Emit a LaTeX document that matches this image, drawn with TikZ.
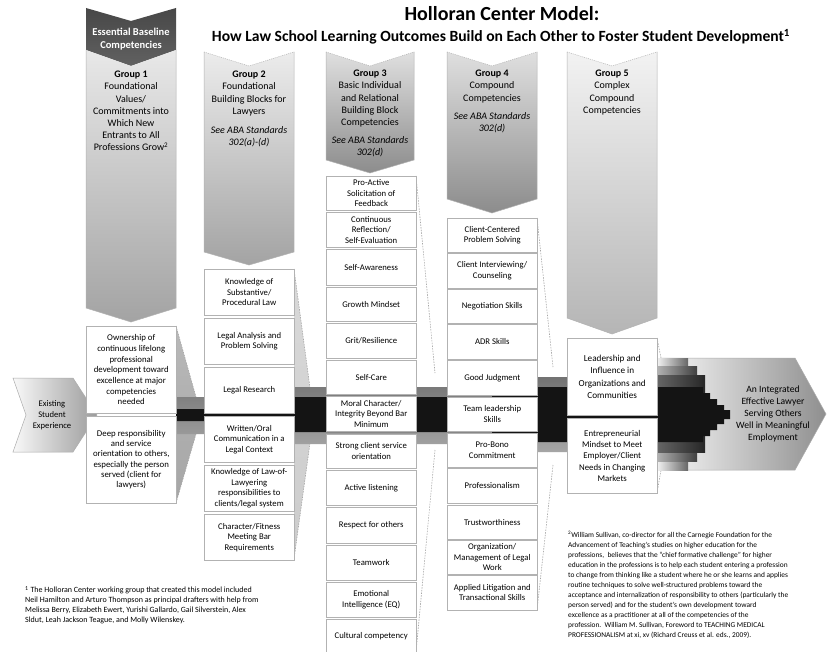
\documentclass[tikz,border=0pt]{standalone}
\usepackage{fontspec}
\setmainfont{Carlito}
\begin{document}
\begin{tikzpicture}[x=1pt,y=-1pt,
  cbox/.style={draw=gray!60, fill=white, line width=0.5pt, inner sep=0pt, align=center,
    anchor=north west, minimum width=90pt, font=\fontsize{8.7}{10.5}\selectfont,
    path picture={\draw[black!60,line width=1.1pt] (path picture bounding box.north west) -- (path picture bounding box.north east);}},
  gtext/.style={align=center, anchor=north, font=\fontsize{10}{12.2}\selectfont, inner sep=0pt},
  colside/.style={draw=gray!60, line width=0.5pt},
  coltop/.style={draw=gray!60, line width=0.5pt, dash pattern=on 1pt off 1pt},
  wedgeline/.style={draw=gray!70, line width=0.6pt, dash pattern=on 1.5pt off 1.2pt},
]
\useasboundingbox (0,0) rectangle (840,652);
\fill[white] (0,0) rectangle (840,652);
\begin{scope}
\clip (0,0) rectangle (840,652);

% ---------- titles
\node[font=\bfseries\fontsize{20}{22}\selectfont, inner sep=0pt] (title) at (502,14) {Holloran Center Model:};
\node[font=\bfseries\fontsize{15.6}{17}\selectfont, inner sep=0pt] (subtitle) at (501,37) {How Law School Learning Outcomes Build on Each Other to Foster Student Development\textsuperscript{1}};

% ---------- column chevrons
% group 1
\shade[top color=black!72, bottom color=black!62] (86,8) -- (131,21) -- (176,8) -- (176,50) -- (131,66) -- (86,50) -- cycle;
\node[font=\bfseries\fontsize{10.5}{12.4}\selectfont, text=white, align=center, inner sep=0pt] (ebc) at (131,39) {Essential Baseline\\Competencies};
\shade[top color=gray!18, bottom color=gray!72] (86,50) -- (131,66) -- (176,50) -- (176,308) -- (131,322) -- (86,308) -- cycle;
\draw[colside] (86,50) -- (86,308) -- (131,322) -- (176,308) -- (176,50);
% group 2
\shade[top color=gray!15, bottom color=gray!72] (204,52) -- (249,66) -- (294,52) -- (294,252) -- (249,265) -- (204,252) -- cycle;
\draw[colside] (204,52) -- (204,252) -- (249,265) -- (294,252) -- (294,52);
\draw[coltop] (204,52) -- (249,66) -- (294,52);
% group 3
\shade[top color=gray!25, bottom color=black!45] (326,52) -- (370,66) -- (414,52) -- (414,160) -- (370,173) -- (326,160) -- cycle;
\draw[colside] (326,52) -- (326,160) -- (370,173) -- (414,160) -- (414,52);
\draw[coltop] (326,52) -- (370,66) -- (414,52);
% group 4
\shade[top color=gray!25, bottom color=black!45] (447,52) -- (492,66) -- (537,52) -- (537,199) -- (492,213) -- (447,199) -- cycle;
\draw[colside] (447,52) -- (447,199) -- (492,213) -- (537,199) -- (537,52);
\draw[coltop] (447,52) -- (492,66) -- (537,52);
% group 5
\shade[top color=gray!10, bottom color=gray!58] (567,52) -- (612,66) -- (657,52) -- (657,318) -- (612,334) -- (567,318) -- cycle;
\draw[colside] (567,52) -- (567,318) -- (612,334) -- (657,318) -- (657,52);
\draw[coltop] (567,52) -- (612,66) -- (657,52);

% ---------- group headings
\node[gtext] (g1t) at (131,71) {\textbf{Group 1}\\Foundational\\Values/\\Commitments into\\Which New\\Entrants to All\\Professions Grow\textsuperscript{2}};
\node[gtext] (g2t) at (249,71) {\textbf{Group 2}\\Foundational\\Building Blocks for\\Lawyers\\[6.5pt]\textit{See ABA Standards}\\\textit{302(a)-(d)}};
\node[gtext] (g3t) at (370,70) {\textbf{Group 3}\\Basic Individual\\and Relational\\Building Block\\Competencies\\[6pt]\textit{See ABA Standards}\\\textit{302(d)}};
\node[gtext] (g4t) at (492,70) {\textbf{Group 4}\\Compound\\Competencies\\[6pt]\textit{See ABA Standards}\\\textit{302(d)}};
\node[gtext] (g5t) at (612,70) {\textbf{Group 5}\\Complex\\Compound\\Competencies};

% ---------- side wedges
\shade[top color=gray!55, middle color=gray!100, bottom color=gray!70] (176,326) -- (196,397) -- (196,434) -- (176,503) -- cycle;
\draw[wedgeline] (176,326) -- (196,397) (196,434) -- (176,503);
\shade[top color=gray!30, middle color=gray!90, bottom color=gray!40] (294,269) -- (310,388) -- (310,443) -- (294,559) -- cycle;
\draw[wedgeline] (294,269) -- (310,388) (310,443) -- (294,559);
\shade[top color=white, middle color=gray!30, bottom color=white] (416,176) -- (435,373) -- (435,450) -- (416,652) -- cycle;
\draw[wedgeline] (416,176) -- (435,373) (435,450) -- (416,652);
\shade[top color=white, middle color=gray!30, bottom color=white] (537,218) -- (553,367) -- (553,465) -- (537,610) -- cycle;
\draw[wedgeline] (537,218) -- (553,367) (553,465) -- (537,610);
\draw[wedgeline] (657,338) -- (661,358) (657,493) -- (661,470);

% ---------- left arrow
\shade[left color=gray!5, right color=gray!78] (13,378) -- (73,378) -- (97,415) -- (73,452) -- (13,452) -- (26,415) -- cycle;
\draw[gray!65, line width=0.5pt] (13,378) -- (73,378) -- (97,415) -- (73,452) -- (13,452) -- (26,415) -- cycle;
\node[align=center, font=\fontsize{8.6}{10.8}\selectfont, inner sep=0pt] (exist) at (52,415) {Existing\\Student\\Experience};

% ---------- final arrow
\shade[left color=gray!6, right color=gray!88] (660,358) -- (795,358) -- (826,414) -- (795,470) -- (660,470) -- cycle;
\draw[gray!65, line width=0.5pt] (660,358) -- (795,358) -- (826,414) -- (795,470) -- (660,470);

% ---------- central band
\shade[top color=black!55, middle color=black!75, bottom color=gray!70]
  (176,397) -- (249,397) -- (249,387) -- (492,387) -- (492,377) -- (657,377) -- (657,452) -- (492,452) -- (492,444) -- (249,444) -- (249,434) -- (176,434) -- cycle;
\shade[left color=gray!10, right color=black!60] (657,358) rectangle (688,470);
\shade[left color=gray!60, right color=black!75] (657,366) rectangle (697,461);
\shade[left color=black!60, right color=black!85] (657,375) rectangle (705,452);
\fill[black!92] (176,409) -- (249,409) -- (249,397) -- (492,397) -- (492,387)
  -- (703,387) -- (703,393) -- (710,393) -- (710,399) -- (717,399) -- (717,405) -- (724,405) -- (724,410) -- (730,410)
  -- (730,419) -- (724,419) -- (724,424) -- (717,424) -- (717,430) -- (710,430) -- (710,436) -- (703,436) -- (703,442)
  -- (492,442) -- (492,432) -- (249,432) -- (249,421) -- (176,421) -- cycle;

\node[align=center, font=\fontsize{9.6}{12}\selectfont, inner sep=0pt] (goal) at (773,414) {An Integrated\\Effective Lawyer\\Serving Others\\Well in Meaningful\\Employment};

% ---------- group 1 boxes
\node[cbox, minimum height=87pt, font=\fontsize{8.8}{10.7}\selectfont] (g1a) at (86,326) {Ownership of\\continuous lifelong\\professional\\development toward\\excellence at major\\competencies\\needed};
\node[cbox, minimum height=87pt, font=\fontsize{8.8}{10.3}\selectfont] (g1b) at (86,416) {Deep responsibility\\and service\\orientation to others,\\especially the person\\served (client for\\lawyers)};

% ---------- group 2 boxes
\node[cbox, minimum height=46pt] (g2a) at (204,269) {Knowledge of\\Substantive/\\Procedural Law};
\node[cbox, minimum height=46pt] (g2b) at (204,318) {Legal Analysis and\\Problem Solving};
\node[cbox, minimum height=46pt] (g2c) at (204,367) {Legal Research};
\node[cbox, minimum height=46pt] (g2d) at (204,416) {Written/Oral\\Communication in a\\Legal Context};
\node[cbox, minimum height=46pt] (g2e) at (204,465) {Knowledge of Law-of-\\Lawyering\\responsibilities to\\clients/legal system};
\node[cbox, minimum height=46pt] (g2f) at (204,514) {Character/Fitness\\Meeting Bar\\Requirements};

% ---------- group 3 boxes
\node[cbox, minimum height=34pt] (g3a) at (326,176) {Pro-Active\\Solicitation of\\Feedback};
\node[cbox, minimum height=35pt] (g3b) at (326,212) {Continuous\\Reflection/\\Self-Evaluation};
\node[cbox, minimum height=36pt] (g3c) at (326,249) {Self-Awareness};
\node[cbox, minimum height=34pt] (g3d) at (326,287) {Growth Mindset};
\node[cbox, minimum height=35pt] (g3e) at (326,323) {Grit/Resilience};
\node[cbox, minimum height=34pt] (g3f) at (326,360) {Self-Care};
\node[cbox, minimum height=35pt] (g3g) at (326,396) {Moral Character/\\Integrity Beyond Bar\\Minimum};
\node[cbox, minimum height=34pt] (g3h) at (326,434) {Strong client service\\orientation};
\node[cbox, minimum height=35pt] (g3i) at (326,470) {Active listening};
\node[cbox, minimum height=36pt] (g3j) at (326,507) {Respect for others};
\node[cbox, minimum height=35pt] (g3k) at (326,545) {Teamwork};
\node[cbox, minimum height=35pt] (g3l) at (326,582) {Emotional\\Intelligence (EQ)};
\node[cbox, minimum height=34pt] (g3m) at (326,619) {Cultural competency};

% ---------- group 4 boxes
\node[cbox, minimum height=34pt] (g4a) at (447,218) {Client-Centered\\Problem Solving};
\node[cbox, minimum height=35pt] (g4b) at (447,253) {Client Interviewing/\\Counseling};
\node[cbox, minimum height=34pt] (g4c) at (447,289) {Negotiation Skills};
\node[cbox, minimum height=35pt] (g4d) at (447,324) {ADR Skills};
\node[cbox, minimum height=35pt] (g4e) at (447,360) {Good Judgment};
\node[cbox, minimum height=34pt] (g4f) at (447,397) {Team leadership\\Skills};
\node[cbox, minimum height=34pt] (g4g) at (447,433) {Pro-Bono\\Commitment};
\node[cbox, minimum height=35pt] (g4h) at (447,468) {Professionalism};
\node[cbox, minimum height=34pt] (g4i) at (447,505) {Trustworthiness};
\node[cbox, minimum height=34pt] (g4j) at (447,540) {Organization/\\Management of Legal\\Work};
\node[cbox, minimum height=35pt] (g4k) at (447,575) {Applied Litigation and\\Transactional Skills};

% ---------- group 5 boxes
\node[cbox, minimum height=77pt, font=\fontsize{9.2}{12.2}\selectfont] (g5a) at (567,338) {Leadership and\\Influence in\\Organizations and\\Communities};
\node[cbox, minimum height=75pt, font=\fontsize{8.8}{11.3}\selectfont] (g5b) at (567,418) {Entrepreneurial\\Mindset to Meet\\Employer/Client\\Needs in Changing\\Markets};

% ---------- footnotes
\node[anchor=north west, align=left, inner sep=0pt, font=\fontsize{8}{10}\selectfont] (fn1) at (25,586)
 {\textsuperscript{1} The Holloran Center working group that created this model included\\
  Neil Hamilton and Arturo Thompson as principal drafters with help from\\
  Melissa Berry, Elizabeth Ewert, Yurishi Gallardo, Gail Silverstein, Alex\\
  Sldut, Leah Jackson Teague, and Molly Wilenskey.};
\node[anchor=north west, align=left, inner sep=0pt, font=\fontsize{7.4}{10}\selectfont] (fn2) at (568,531)
 {\textsuperscript{2}William Sullivan, co-director for all the Carnegie Foundation for the\\
  Advancement of Teaching's studies on higher education for the\\
  professions,\ \ believes that the ``chief formative challenge'' for higher\\
  education in the professions is to help each student entering a profession\\
  to change from thinking like a student where he or she learns and applies\\
  routine techniques to solve well-structured problems toward the\\
  acceptance and internalization of responsibility to others (particularly the\\
  person served) and for the student's own development toward\\
  excellence as a practitioner at all of the competencies of the\\
  profession.\ \ William M. Sullivan, Foreword to TEACHING MEDICAL\\
  PROFESSIONALISM at xi, xv (Richard Creuss et al. eds., 2009).};
\end{scope}
\end{tikzpicture}
\end{document}
